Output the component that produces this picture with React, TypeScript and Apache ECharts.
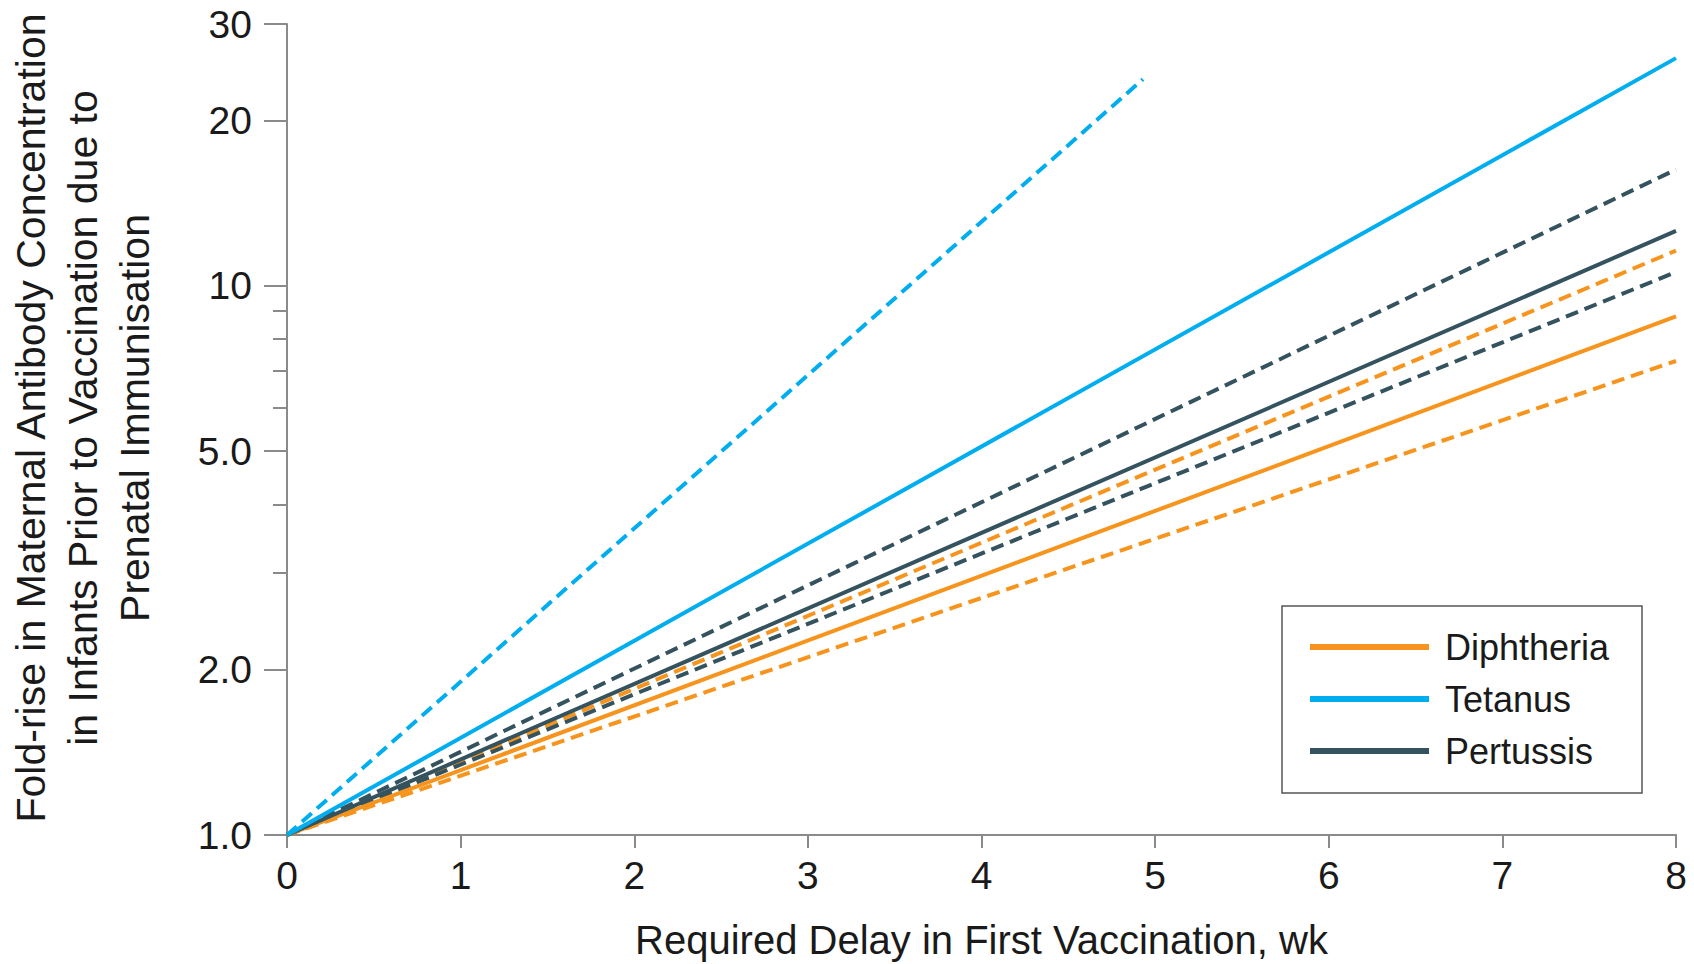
import React, { useEffect, useRef } from "react";
import * as echarts from "echarts";

// ---- Data ----
const legendNames = ["Diphtheria", "Tetanus", "Pertussis"];
const diphtheria = [[0, 1], [8, 8.8]];
const diphtheriaLower = [[0, 1], [8, 7.3]];
const diphtheriaUpper = [[0, 1], [8, 11.6]];
const tetanus = [[0, 1], [8, 26]];
const tetanusUpper = [[0, 1], [4.93, 23.8]];
const pertussis = [[0, 1], [8, 12.6]];
const pertussisLower = [[0, 1], [8, 10.6]];
const pertussisUpper = [[0, 1], [8, 16.3]];

const yLabelValues = [1, 2, 5, 10, 20, 30];
const yLabelTexts = ["1.0", "2.0", "5.0", "10", "20", "30"];
const yMinorTicks = [3, 4, 6, 7, 8, 9];

const xTitle = "Required Delay in First Vaccination, wk";
const yTitle =
  "Fold-rise in Maternal Antibody Concentration\nin Infants Prior to Vaccination due to\nPrenatal Immunisation";

// ---- Styles ----
const FONT = "'Liberation Sans', Arial, sans-serif";
const TEXT = "#1a1a1a";
const AXIS = "#8a8a8a";
const C_DIPH = "#F7941D";
const C_TET = "#00AEEF";
const C_PER = "#35535E";
const DASH = [13, 7];

function lineSeries(name: string, data: number[][], color: string, dashed: boolean) {
  return {
    type: "line",
    name,
    data,
    showSymbol: false,
    symbol: "none",
    silent: true,
    itemStyle: { color },
    lineStyle: { color, width: 4, type: dashed ? DASH : "solid", cap: "butt" },
  };
}

export default function App() {
  const ref = useRef<HTMLDivElement>(null);

  useEffect(() => {
    if (!ref.current) return;
    const chart = echarts.init(ref.current, null, { renderer: "svg" });
    const option: any = {
      animation: false,
      backgroundColor: "#ffffff",
      textStyle: { fontFamily: FONT },
      grid: {
        left: 287,
        right: 18,
        top: 24,
        bottom: 129,
        containLabel: false,
        outerBoundsMode: "none",
      },
      xAxis: {
        type: "value",
        min: 0,
        max: 8,
        interval: 1,
        name: xTitle,
        nameLocation: "middle",
        nameGap: 85,
        nameTextStyle: { fontSize: 40, color: TEXT, fontFamily: FONT },
        axisLine: { show: true, onZero: false, lineStyle: { color: AXIS, width: 2 } },
        axisTick: { show: true, length: 13, lineStyle: { color: AXIS, width: 2 } },
        axisLabel: { margin: 21, fontSize: 39, color: TEXT, fontFamily: FONT },
        splitLine: { show: false },
      },
      yAxis: [
        {
          type: "log",
          logBase: 10,
          min: 1,
          max: 30,
          axisLine: { show: true, onZero: false, lineStyle: { color: AXIS, width: 2 } },
          axisTick: {
            show: true,
            length: 23,
            customValues: yLabelValues,
            lineStyle: { color: AXIS, width: 2 },
          },
          axisLabel: {
            customValues: yLabelValues,
            margin: 35,
            fontSize: 39,
            color: TEXT,
            fontFamily: FONT,
            formatter: (v: number) => {
              for (let i = 0; i < yLabelValues.length; i++) {
                if (Math.abs(v - yLabelValues[i]) < 1e-6) return yLabelTexts[i];
              }
              return "";
            },
          },
          splitLine: { show: false },
          minorTick: { show: false },
        },
        {
          type: "log",
          logBase: 10,
          min: 1,
          max: 30,
          position: "left",
          axisLine: { show: false },
          axisTick: {
            show: true,
            length: 14,
            customValues: yMinorTicks,
            lineStyle: { color: AXIS, width: 2 },
          },
          axisLabel: { show: false },
          splitLine: { show: false },
        },
      ],
      legend: {
        data: legendNames,
        orient: "vertical",
        left: 1310,
        top: 627,
        padding: 0,
        z: 20,
        icon: "rect",
        itemWidth: 119,
        itemHeight: 6,
        itemGap: 12,
        selectedMode: false,
        textStyle: {
          fontSize: 36,
          lineHeight: 40,
          color: TEXT,
          fontFamily: FONT,
          padding: [0, 0, 0, 11],
        },
      },
      graphic: [
        {
          type: "rect",
          shape: { x: 1282, y: 606, width: 360, height: 187 },
          style: { fill: "#ffffff", stroke: "#555555", lineWidth: 1.5 },
          z: 3,
        },
        {
          type: "text",
          x: 83,
          y: 418,
          rotation: Math.PI / 2,
          style: {
            text: yTitle,
            fontSize: 41,
            fontFamily: FONT,
            fill: TEXT,
            align: "center",
            verticalAlign: "middle",
            textAlign: "center",
            textVerticalAlign: "middle",
            lineHeight: 52,
          },
        },
      ],
      series: [
        lineSeries("Diphtheria lower", diphtheriaLower, C_DIPH, true),
        lineSeries("Diphtheria upper", diphtheriaUpper, C_DIPH, true),
        lineSeries("Pertussis lower", pertussisLower, C_PER, true),
        lineSeries("Pertussis upper", pertussisUpper, C_PER, true),
        lineSeries("Tetanus upper", tetanusUpper, C_TET, true),
        lineSeries("Diphtheria", diphtheria, C_DIPH, false),
        lineSeries("Pertussis", pertussis, C_PER, false),
        lineSeries("Tetanus", tetanus, C_TET, false),
      ],
    };
    chart.setOption(option);
    return () => chart.dispose();
  }, []);

  return (
    <div
      ref={ref}
      style={{ position: "absolute", left: 0, top: 0, width: 1694, height: 964 }}
    />
  );
}
